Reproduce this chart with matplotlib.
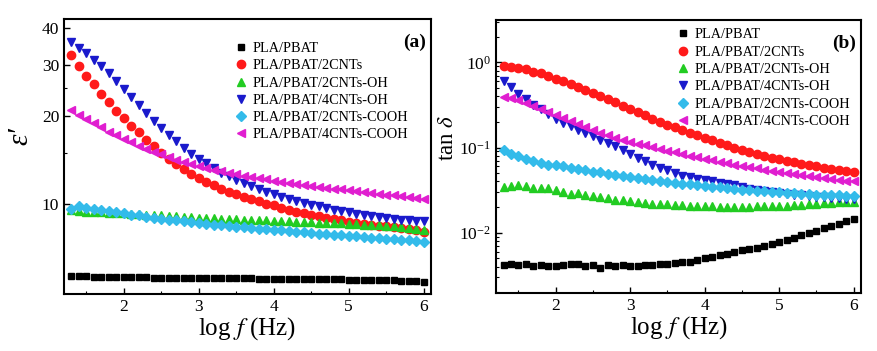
import numpy as np
import matplotlib
matplotlib.use("Agg")
import matplotlib.pyplot as plt
from matplotlib.ticker import FixedLocator, MultipleLocator, LogLocator, LogFormatterMathtext, NullFormatter

plt.rcParams['font.family'] = ['Liberation Serif', 'DejaVu Serif']
plt.rcParams['mathtext.fontset'] = 'stix'

logf = [1.3, 1.4, 1.5, 1.6, 1.7, 1.8, 1.9, 2.0, 2.1, 2.2,
        2.3, 2.4, 2.5, 2.6, 2.7, 2.8, 2.9, 3.0, 3.1, 3.2,
        3.3, 3.4, 3.5, 3.6, 3.7, 3.8, 3.9, 4.0, 4.1, 4.2,
        4.3, 4.4, 4.5, 4.6, 4.7, 4.8, 4.9, 5.0, 5.1, 5.2,
        5.3, 5.4, 5.5, 5.6, 5.7, 5.8, 5.9, 6.0]

labels = ["PLA/PBAT", "PLA/PBAT/2CNTs", "PLA/PBAT/2CNTs-OH", "PLA/PBAT/4CNTs-OH",
          "PLA/PBAT/2CNTs-COOH", "PLA/PBAT/4CNTs-COOH"]

# (a) dielectric constant
eps_pbat = [5.68, 5.70, 5.69, 5.64, 5.64, 5.64, 5.63, 5.65, 5.63, 5.62,
            5.62, 5.61, 5.61, 5.61, 5.60, 5.60, 5.60, 5.59, 5.59, 5.58,
            5.58, 5.58, 5.57, 5.57, 5.57, 5.56, 5.56, 5.56, 5.55, 5.55,
            5.55, 5.54, 5.54, 5.54, 5.53, 5.53, 5.53, 5.52, 5.52, 5.51,
            5.51, 5.50, 5.50, 5.49, 5.48, 5.47, 5.45, 5.41]
eps_2cnt = [32.3, 29.8, 27.5, 25.7, 23.8, 22.3, 20.9, 19.7, 18.5, 17.6,
            16.6, 15.8, 15.0, 14.3, 13.7, 13.2, 12.7, 12.3, 11.95, 11.6,
            11.3, 11.05, 10.8, 10.6, 10.4, 10.22, 10.05, 9.9, 9.74, 9.58,
            9.44, 9.31, 9.19, 9.08, 8.98, 8.89, 8.80, 8.72, 8.65, 8.58,
            8.51, 8.45, 8.39, 8.33, 8.27, 8.21, 8.14, 8.02]
eps_2oh = [9.56, 9.5, 9.39, 9.42, 9.4, 9.36, 9.33, 9.3, 9.27, 9.25,
           9.22, 9.19, 9.15, 9.12, 9.09, 9.06, 9.03, 9.0, 8.97, 8.95,
           8.92, 8.9, 8.88, 8.86, 8.84, 8.82, 8.8, 8.77, 8.75, 8.73,
           8.71, 8.69, 8.67, 8.65, 8.63, 8.61, 8.59, 8.57, 8.54, 8.52,
           8.49, 8.46, 8.43, 8.4, 8.36, 8.31, 8.25, 8.17]
eps_4oh = [35.8, 34.2, 32.9, 31.1, 29.6, 28.0, 26.4, 24.8, 23.2, 21.8,
           20.5, 19.3, 18.2, 17.2, 16.4, 15.6, 14.9, 14.3, 13.8, 13.3,
           12.8, 12.5, 12.1, 11.8, 11.5, 11.25, 11.0, 10.8, 10.6, 10.42,
           10.25, 10.1, 9.96, 9.83, 9.7, 9.58, 9.47, 9.37, 9.28, 9.19,
           9.11, 9.04, 8.97, 8.91, 8.85, 8.8, 8.77, 8.75]
eps_2cooh = [9.64, 9.87, 9.69, 9.6, 9.55, 9.48, 9.38, 9.3, 9.22, 9.15,
             9.07, 9.0, 8.93, 8.86, 8.8, 8.74, 8.68, 8.62, 8.57, 8.52,
             8.47, 8.42, 8.37, 8.33, 8.29, 8.25, 8.21, 8.17, 8.13, 8.09,
             8.05, 8.01, 7.97, 7.93, 7.9, 7.87, 7.83, 7.8, 7.76, 7.73,
             7.69, 7.66, 7.63, 7.59, 7.56, 7.52, 7.49, 7.45]
eps_4cooh = [21.0, 20.2, 19.5, 18.9, 18.3, 17.7, 17.2, 16.7, 16.3, 15.85,
             15.5, 15.1, 14.8, 14.5, 14.2, 13.9, 13.7, 13.5, 13.3, 13.1,
             12.95, 12.8, 12.65, 12.5, 12.38, 12.26, 12.15, 12.04, 11.94, 11.84,
             11.74, 11.65, 11.56, 11.47, 11.39, 11.31, 11.23, 11.15, 11.07, 11.0,
             10.93, 10.86, 10.79, 10.72, 10.65, 10.58, 10.5, 10.4]

# (b) loss tangent
tan_pbat = [0.0042, 0.0043, 0.0042, 0.0043, 0.0041, 0.0042, 0.0041, 0.0041, 0.0042, 0.0043,
            0.0043, 0.0041, 0.0042, 0.0039, 0.0042, 0.0041, 0.0042, 0.0041, 0.0041, 0.0042,
            0.0042, 0.0043, 0.0043, 0.0044, 0.0045, 0.0046, 0.0048, 0.0050, 0.0052, 0.0055,
            0.0057, 0.0059, 0.0062, 0.0064, 0.0067, 0.0070, 0.0074, 0.0078, 0.0082, 0.0087,
            0.0093, 0.0099, 0.0106, 0.0113, 0.0119, 0.0127, 0.0136, 0.0145]
tan_2cnt = [0.905, 0.88, 0.866, 0.83, 0.78, 0.74, 0.69, 0.645, 0.6, 0.56,
            0.52, 0.48, 0.44, 0.405, 0.37, 0.34, 0.31, 0.285, 0.26, 0.238,
            0.218, 0.2, 0.186, 0.172, 0.16, 0.15, 0.14, 0.131, 0.122, 0.114,
            0.107, 0.1, 0.094, 0.089, 0.084, 0.08, 0.076, 0.073, 0.07, 0.067,
            0.064, 0.062, 0.06, 0.058, 0.056, 0.054, 0.053, 0.052]
tan_2oh = [0.034, 0.0355, 0.036, 0.035, 0.0335, 0.0335, 0.0335, 0.032, 0.0305, 0.0285,
           0.029, 0.0275, 0.027, 0.026, 0.0255, 0.0245, 0.024, 0.0235, 0.023, 0.0225,
           0.022, 0.0218, 0.0215, 0.0212, 0.021, 0.0208, 0.0206, 0.0205, 0.0204, 0.0203,
           0.0203, 0.0203, 0.0203, 0.0203, 0.0204, 0.0205, 0.0206, 0.0207, 0.0208, 0.021,
           0.0213, 0.0216, 0.0219, 0.0222, 0.0225, 0.0228, 0.023, 0.0232]
tan_4oh = [0.60, 0.51, 0.43, 0.37, 0.32, 0.28, 0.245, 0.218, 0.195, 0.177,
           0.162, 0.148, 0.136, 0.124, 0.113, 0.103, 0.093, 0.083, 0.076, 0.069,
           0.063, 0.058, 0.054, 0.05, 0.047, 0.045, 0.043, 0.042, 0.04, 0.038,
           0.037, 0.036, 0.034, 0.033, 0.032, 0.031, 0.03, 0.029, 0.0285, 0.028,
           0.0275, 0.027, 0.0265, 0.026, 0.0258, 0.0255, 0.0252, 0.025]
tan_2cooh = [0.094, 0.085, 0.079, 0.074, 0.07, 0.066, 0.063, 0.062, 0.06, 0.058,
             0.056, 0.054, 0.052, 0.051, 0.049, 0.048, 0.0465, 0.045, 0.0435, 0.0425,
             0.0415, 0.0405, 0.0395, 0.0385, 0.0378, 0.037, 0.0362, 0.0355, 0.0348, 0.034,
             0.0333, 0.0327, 0.0321, 0.0316, 0.0311, 0.0306, 0.0302, 0.0298, 0.0294, 0.029,
             0.0287, 0.0284, 0.0281, 0.0279, 0.0277, 0.0275, 0.0273, 0.0271]
tan_4cooh = [0.395, 0.38, 0.36, 0.335, 0.31, 0.285, 0.262, 0.24, 0.222, 0.205,
             0.19, 0.175, 0.16, 0.15, 0.14, 0.131, 0.123, 0.117, 0.111, 0.106,
             0.101, 0.096, 0.092, 0.088, 0.084, 0.08, 0.077, 0.074, 0.071, 0.068,
             0.066, 0.063, 0.061, 0.059, 0.057, 0.055, 0.053, 0.052, 0.05, 0.049,
             0.048, 0.046, 0.045, 0.044, 0.043, 0.042, 0.041, 0.0405]

colors = ["black", "#ff1a1a", "#22cc22", "#1a1acc", "#33bbea", "#e01ed0"]
markers = ["s", "o", "^", "v", "D", "<"]
sizes = [5, 6, 6, 6.3, 5, 6.3]

fig = plt.figure(figsize=(8.78, 3.51), dpi=100)
ax1 = fig.add_axes([0.0729, 0.1624, 0.418, 0.7835])
ax2 = fig.add_axes([0.565, 0.165, 0.4157, 0.778])

eps_all = [eps_pbat, eps_2cnt, eps_2oh, eps_4oh, eps_2cooh, eps_4cooh]
tan_all = [tan_pbat, tan_2cnt, tan_2oh, tan_4oh, tan_2cooh, tan_4cooh]

for i in range(6):
    ax1.plot(logf, eps_all[i], linestyle="none", marker=markers[i], ms=sizes[i],
             color=colors[i], mec=colors[i], label=labels[i])
    ax2.plot(logf, tan_all[i], linestyle="none", marker=markers[i], ms=sizes[i],
             color=colors[i], mec=colors[i], label=labels[i])

ax1.set_yscale("log")
ax1.set_ylim(4.93, 43)
ax1.yaxis.set_major_locator(FixedLocator([10, 20, 30, 40]))
ax1.yaxis.set_minor_locator(FixedLocator([15, 25]))
ax1.yaxis.set_major_formatter(plt.FuncFormatter(lambda v, p: "%d" % v))
ax1.yaxis.set_minor_formatter(NullFormatter())
ax1.set_ylabel("ε′", fontsize=21, fontstyle="italic")
ax1.yaxis.set_label_coords(-0.084, 0.575)

ax2.set_yscale("log")
ax2.set_ylim(0.00196, 3.14)
ax2.yaxis.set_major_locator(LogLocator(base=10, numticks=10))
ax2.yaxis.set_minor_locator(LogLocator(base=10, subs=np.arange(2, 10), numticks=20))
ax2.yaxis.set_major_formatter(LogFormatterMathtext())
ax2.yaxis.set_minor_formatter(NullFormatter())
ax2.set_ylabel(r"tan $\delta$", fontsize=16.5)
ax2.yaxis.set_label_coords(-0.105, 0.568)

for ax in [ax1, ax2]:
    ax.set_xlim(1.2, 6.1)
    ax.xaxis.set_major_locator(MultipleLocator(1))
    ax.xaxis.set_minor_locator(MultipleLocator(0.5))
    ax.set_xlabel(r"log $f$ (Hz)", fontsize=18, labelpad=0)
    ax.tick_params(which="both", direction="in", top=False, right=False, labelsize=12.5)
    ax.tick_params(which="major", length=4, width=1)
    ax.tick_params(which="minor", length=2.5, width=0.8)
    for s in ax.spines.values():
        s.set_linewidth(1.5)

ax1.text(0.985, 0.915, "(a)", transform=ax1.transAxes, ha="right", va="center",
         fontsize=14, fontweight="bold")
ax2.text(0.985, 0.915, "(b)", transform=ax2.transAxes, ha="right", va="center",
         fontsize=14, fontweight="bold")

ax1.legend(loc="upper right", bbox_to_anchor=(0.966, 0.953), frameon=False, fontsize=10.3,
           handletextpad=0.25, labelspacing=0.3, borderpad=0.2, handlelength=1.2)
ax2.legend(loc="upper right", bbox_to_anchor=(0.999, 1.006), frameon=False, fontsize=10.3,
           handletextpad=0.25, labelspacing=0.3, borderpad=0.2, handlelength=1.2)

fig.savefig("out.png", dpi=100)
